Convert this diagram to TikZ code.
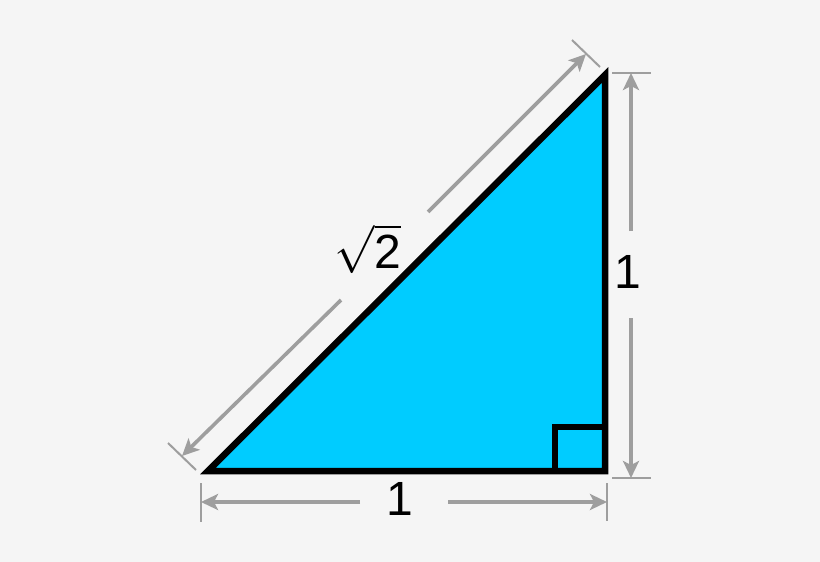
\RequirePackage{fix-cm}
\documentclass[tikz,border=0pt]{standalone}
\usepackage{amsmath}
\usepackage{fontspec}
\setmainfont{Liberation Sans}
\usetikzlibrary{arrows.meta}
\definecolor{bg}{HTML}{F5F5F5}
\definecolor{tri}{HTML}{00CCFF}
\definecolor{dimgray}{HTML}{9E9E9E}
\tikzset{
  dimline/.style={draw=dimgray, line width=3.6pt, -{Stealth[length=17pt,width=16pt,inset=4pt]}},
  extline/.style={draw=dimgray, line width=2pt},
  lab/.style={inner sep=0pt, font=\fontsize{48}{50}\selectfont},
  edge/.style={draw=black, line width=6.5pt, line join=miter}
}
\begin{document}
\begin{tikzpicture}[x=1pt,y=-1pt]
\fill[bg] (0,0) rectangle (820,562);
\useasboundingbox (0,0) rectangle (820,562);
% triangle
\coordinate (A) at (208,471);
\coordinate (B) at (605,471);
\coordinate (C) at (605,75);
\coordinate (S1) at (555,471);
\coordinate (S2) at (555,427);
\coordinate (S3) at (605,427);
\fill[tri] (A) -- (B) -- (C) -- cycle;
\draw[edge] (S1) -- (S2) -- (S3);
\draw[edge] (A) -- (B) -- (C) -- cycle;
% hypotenuse dimension
\coordinate (h1a) at (168,443); \coordinate (h1b) at (196,470);
\coordinate (h2a) at (572,40);  \coordinate (h2b) at (600,67);
\coordinate (hA) at (182,456);  \coordinate (hB) at (586,54);
\coordinate (hg1) at (341,300); \coordinate (hg2) at (428,212);
\draw[extline] (h1a) -- (h1b);
\draw[extline] (h2a) -- (h2b);
\draw[dimline] (hg1) -- (hA);
\draw[dimline] (hg2) -- (hB);
\node[lab] (lh) at (368,249) {$\sqrt{\text{2}}$};
% bottom dimension
\coordinate (b1a) at (201,483); \coordinate (b1b) at (201,522);
\coordinate (b2a) at (607,483); \coordinate (b2b) at (607,521);
\coordinate (bA) at (201,502);  \coordinate (bB) at (607,502);
\coordinate (bg1) at (360,502); \coordinate (bg2) at (448,502);
\draw[extline] (b1a) -- (b1b);
\draw[extline] (b2a) -- (b2b);
\draw[dimline] (bg1) -- (bA);
\draw[dimline] (bg2) -- (bB);
\node[lab] (lb) at (400,499) {1};
% right dimension
\coordinate (r1a) at (612,73);  \coordinate (r1b) at (651,73);
\coordinate (r2a) at (612,478); \coordinate (r2b) at (651,478);
\coordinate (rA) at (631,73);   \coordinate (rB) at (631,478);
\coordinate (rg1) at (631,231); \coordinate (rg2) at (631,318);
\draw[extline] (r1a) -- (r1b);
\draw[extline] (r2a) -- (r2b);
\draw[dimline] (rg1) -- (rA);
\draw[dimline] (rg2) -- (rB);
\node[lab] (lr) at (628,272) {1};
\end{tikzpicture}
\end{document}
